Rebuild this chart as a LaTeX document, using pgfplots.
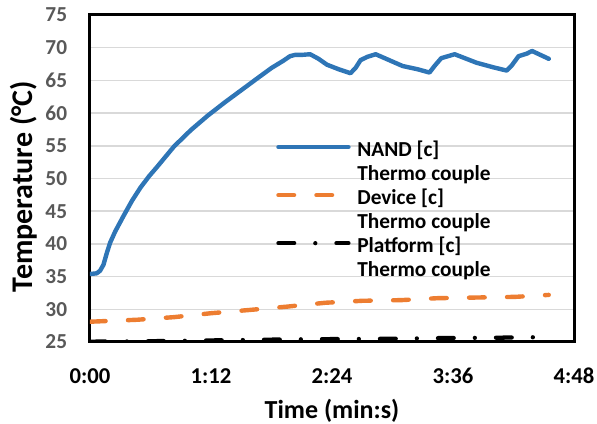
\documentclass[border=0pt]{standalone}
\usepackage{fontspec}
\setmainfont{Carlito}
\usepackage{pgfplots}
\pgfplotsset{compat=1.18}

\definecolor{nandblue}{HTML}{2E75B6}
\definecolor{devorange}{HTML}{ED7D31}
\definecolor{gridgray}{HTML}{D9D9D9}
\definecolor{tickgray}{HTML}{595959}

\pgfplotstableread{
t T
0 35.4
4 35.5
6 35.9
8 36.8
10 38.6
12 40.2
15 41.9
20 44.3
25 46.6
30 48.6
35 50.3
40 51.8
50 54.9
60 57.4
70 59.6
80 61.6
90 63.5
100 65.4
108 66.9
115 68.0
119 68.7
122 68.9
126 68.9
131 69.0
136 68.3
141 67.4
148 66.7
155 66.1
158 66.9
161 68.1
165 68.6
170 69.0
178 68.1
186 67.2
195 66.7
202 66.2
205 67.2
209 68.4
213 68.7
217 69.0
223 68.4
230 67.7
240 67.0
248 66.5
251 67.3
255 68.7
260 69.1
263 69.5
268 68.9
273 68.3
}\nand

\pgfplotstableread{
t T
0 28.1
28 28.4
50 28.8
72 29.4
95 29.9
117 30.4
140 31.0
162 31.3
185 31.4
207 31.7
230 31.8
253 31.9
273 32.2
}\device

\pgfplotstableread{
t T
0 25.05
30 25.1
60 25.2
90 25.3
120 25.4
150 25.45
180 25.5
210 25.6
240 25.65
273 25.75
}\platform

\begin{document}
\begin{tikzpicture}
\begin{axis}[
  name=ax,
  scale only axis, width=363pt, height=245.25pt,
  xmin=0, xmax=288, ymin=25, ymax=75,
  xtick={0,72,144,216,288},
  xticklabels={0:00,1:12,2:24,3:36,4:48},
  ytick={25,30,...,75},
  major tick length=0pt,
  ymajorgrids, grid style={gridgray, line width=1.1pt},
  axis line style={black, line width=2.25pt},
  /pgf/number format/assume math mode=true,
  xticklabel style={font=\fontsize{17}{20}\selectfont\bfseries, anchor=north, inner sep=0pt, yshift=-19.5pt},
  yticklabel style={font=\fontsize{16}{19}\selectfont\bfseries, text=tickgray, anchor=east, inner sep=0pt, xshift=-17pt},
  xlabel={Time (min:s)},
  ylabel={Temperature (°C)},
  xlabel style={font=\fontsize{19.5}{22}\selectfont\bfseries, at={(axis description cs:0.5,0)}, anchor=north, yshift=-43pt, inner sep=0pt},
  ylabel style={font=\fontsize{22.5}{26}\selectfont\bfseries, at={(axis description cs:-0.165,0.4755)}, anchor=north, inner sep=0pt},
  legend style={draw=none, fill=none, at={(rel axis cs:0.376,0.628)}, anchor=north west,
    font=\fontsize{16}{18}\selectfont\bfseries, row sep=0pt, column sep=5pt,
    nodes={inner sep=0pt, text height=12.5pt, text depth=5.5pt}},
  legend cell align=left,
  legend image code/.code={\draw[#1] (0pt,0.33em) -- (52.5pt,0.33em);},
]
\addplot[nandblue, line width=3.3pt, line cap=round, line join=round] table {\nand};
\addlegendentry{NAND [c]}
\addlegendimage{legend image code/.code={}}
\addlegendentry{Thermo couple}
\addplot[devorange, line width=3.3pt, line cap=round, dash pattern=on 11.7pt off 16.8pt] table {\device};
\addlegendentry{Device [c]}
\addlegendimage{legend image code/.code={}}
\addlegendentry{Thermo couple}
\addplot[black, line width=3.2pt, line cap=round, dash pattern=on 11.8pt off 15.85pt on 0pt off 15.85pt] table {\platform};
\addlegendentry{Platform [c]}
\addlegendimage{legend image code/.code={}}
\addlegendentry{Thermo couple}
\end{axis}
\pgfresetboundingbox
\path (ax.south west) ++(-67.5pt,-61.5pt) coordinate (bl);
\path (ax.north east) ++(17.25pt,11.25pt) coordinate (tr);
\path (bl) rectangle (tr);
\end{tikzpicture}
\end{document}
